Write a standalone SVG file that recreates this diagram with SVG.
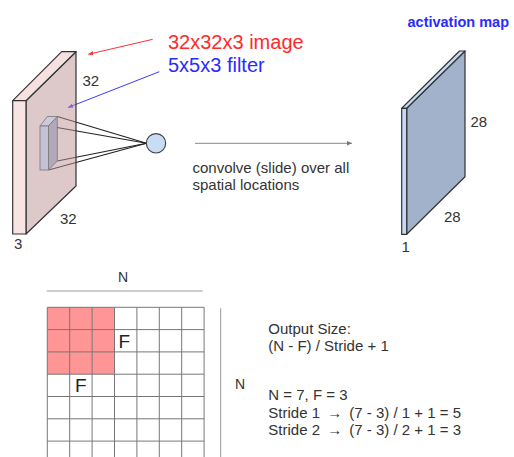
<svg xmlns="http://www.w3.org/2000/svg" width="514" height="457" viewBox="0 0 514 457">
<style>
  text { font-family: "Liberation Sans", Arial, sans-serif; fill: #333; }
  .lbl { font-size: 15px; }
  .big { font-size: 20px; }
  .edge { stroke: #333; stroke-width: 1.2; stroke-linejoin: round; }
  .grid line { stroke: #777; stroke-width: 1; }
</style>
<defs>
  <marker id="ahRed" markerWidth="6" markerHeight="6" refX="5" refY="3" orient="auto" markerUnits="userSpaceOnUse">
    <path d="M0,0.8 L5,3 L0,5.2 Z" fill="#ff3030"/>
  </marker>
  <marker id="ahBlue" markerWidth="6" markerHeight="6" refX="5" refY="3" orient="auto" markerUnits="userSpaceOnUse">
    <path d="M0,0.8 L5,3 L0,5.2 Z" fill="#3a3aff"/>
  </marker>
  <marker id="ahGray" markerWidth="6" markerHeight="6" refX="5" refY="3" orient="auto" markerUnits="userSpaceOnUse">
    <path d="M0,0.8 L5,3 L0,5.2 Z" fill="#777"/>
  </marker>
</defs>
<rect width="514" height="457" fill="#fff"/>

<g id="connectors">
  <g id="filter-to-neuron" stroke="#222" stroke-width="1.1" fill="none">
    <line x1="57.3" y1="116.5" x2="146.5" y2="143.3"/>
    <line x1="48.5" y1="126" x2="146.5" y2="143.3"/>
    <line x1="48.5" y1="170" x2="146.5" y2="143.3"/>
    <line x1="57.3" y1="161" x2="146.5" y2="143.3"/>
  </g>
  <line id="red-pointer" x1="152.7" y1="39.3" x2="88.3" y2="54.3" stroke="#ff3030" stroke-width="1" marker-end="url(#ahRed)"/>
  <line id="blue-pointer" x1="159.3" y1="71.7" x2="68" y2="107.5" stroke="#3a3aff" stroke-width="1" marker-end="url(#ahBlue)"/>
  <line id="convolve-arrow" x1="195" y1="143.3" x2="352" y2="143.3" stroke="#888" stroke-width="1" marker-end="url(#ahGray)"/>
</g>

<g id="input-volume">
  <polygon class="edge" points="26,100.7 76,51.7 76,186 26,234" fill="#bb9494" fill-opacity="0.5"/>
  <polygon class="edge" points="12.7,100.7 61.7,51.7 76,51.7 26,100.7" fill="#f7e0e0"/>
  <rect class="edge" x="12.7" y="100.7" width="13.3" height="133.3" fill="#f9e4e4"/>
  <text class="lbl" x="82.5" y="86">32</text>
  <text class="lbl" x="60" y="224">32</text>
  <text class="lbl" x="14" y="249">3</text>
</g>

<g id="filter">
  <polygon points="40,126 47.3,116.5 57.3,116.5 48.5,126" fill="#cdc8da" stroke="#777" stroke-width="0.8"/>
  <polygon points="48.5,126 57.3,116.5 57.3,161 48.5,170" fill="#b2a8ba" stroke="#777" stroke-width="0.8"/>
  <rect x="40" y="126" width="8.5" height="44" fill="#c6c2d6" stroke="#777" stroke-width="0.8"/>
</g>

<g id="neuron">
  <circle cx="156" cy="143.3" r="9.7" fill="#c9dcf5" stroke="#444" stroke-width="1.2"/>
</g>

<g id="labels">
  <text class="big" x="168" y="49" style="fill:#ff2a2a">32x32x3 image</text>
  <text class="big" x="168" y="71.7" style="fill:#2b2bff">5x5x3 filter</text>
  <text class="lbl" x="192.5" y="172.5">convolve (slide) over all</text>
  <text class="lbl" x="192.5" y="190">spatial locations</text>
  <text x="407.5" y="26.5" style="font-size:14.5px;font-weight:bold;fill:#2b2bff">activation map</text>
</g>

<g id="activation-map">
  <polygon class="edge" points="406.7,108.3 465,51 465,176.7 406.7,234.3" fill="#a3b2cb"/>
  <polygon class="edge" points="401.7,108.3 459.5,51 465,51 406.7,108.3" fill="#c6d9f7"/>
  <rect class="edge" x="401.7" y="108.3" width="5" height="126" fill="#c6d9f7"/>
  <text class="lbl" x="470.5" y="127.3">28</text>
  <text class="lbl" x="444" y="221.7">28</text>
  <text class="lbl" x="401.5" y="251.7">1</text>
</g>

<g id="grid">
  <rect x="47.3" y="307.3" width="67.2" height="66.9" fill="#ff9595"/>
  <g class="grid">
    <line x1="47.3" y1="307.3" x2="47.3" y2="460"/>
    <line x1="69.7" y1="307.3" x2="69.7" y2="460"/>
    <line x1="92.1" y1="307.3" x2="92.1" y2="460"/>
    <line x1="114.5" y1="307.3" x2="114.5" y2="460"/>
    <line x1="136.9" y1="307.3" x2="136.9" y2="460"/>
    <line x1="159.3" y1="307.3" x2="159.3" y2="460"/>
    <line x1="181.7" y1="307.3" x2="181.7" y2="460"/>
    <line x1="204.1" y1="307.3" x2="204.1" y2="460"/>
    <line x1="47.3" y1="307.3" x2="204.1" y2="307.3"/>
    <line x1="47.3" y1="329.6" x2="204.1" y2="329.6"/>
    <line x1="47.3" y1="351.9" x2="204.1" y2="351.9"/>
    <line x1="47.3" y1="374.2" x2="204.1" y2="374.2"/>
    <line x1="47.3" y1="396.5" x2="204.1" y2="396.5"/>
    <line x1="47.3" y1="418.8" x2="204.1" y2="418.8"/>
    <line x1="47.3" y1="441.1" x2="204.1" y2="441.1"/>
  </g>
  <text x="118.5" y="348.3" style="font-size:19px;fill:#222">F</text>
  <text x="75" y="392.3" style="font-size:19px;fill:#222">F</text>
  <line x1="46.7" y1="291" x2="202.7" y2="291" stroke="#999" stroke-width="1"/>
  <text x="118" y="281.7" style="font-size:14px">N</text>
  <line x1="220.7" y1="308.3" x2="220.7" y2="457" stroke="#999" stroke-width="1"/>
  <text x="235" y="389.3" style="font-size:14px">N</text>
</g>

<g id="formula">
  <text class="lbl" x="268.3" y="334.3">Output Size:</text>
  <text class="lbl" x="268.3" y="350.7">(N - F) / Stride + 1</text>
  <text class="lbl" x="268.3" y="400">N = 7, F = 3</text>
  <text class="lbl" x="268.3" y="418.3">Stride 1 <tspan dx="3">→</tspan><tspan dx="3"> (7 - 3) / 1 + 1 = 5</tspan></text>
  <text class="lbl" x="268.3" y="435">Stride 2 <tspan dx="3">→</tspan><tspan dx="3"> (7 - 3) / 2 + 1 = 3</tspan></text>
</g>
</svg>
